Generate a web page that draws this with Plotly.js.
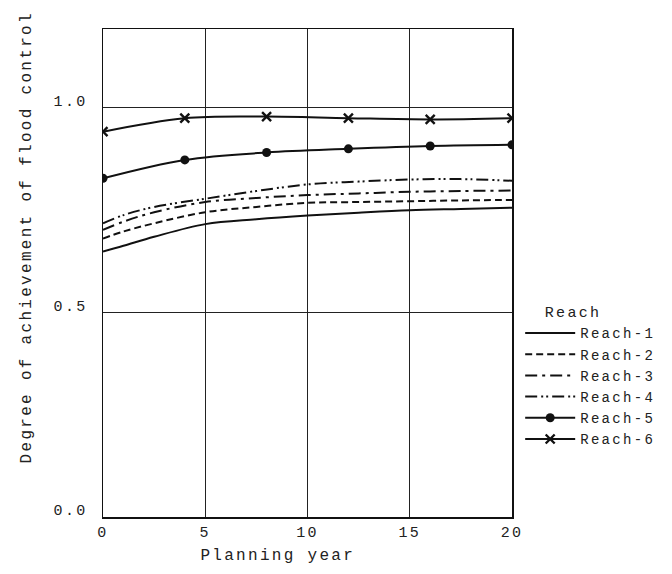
<!DOCTYPE html>
<html>
<head>
<meta charset="utf-8">
<script src="https://cdn.plot.ly/plotly-3.0.1.min.js"></script>
<style>
  html, body { margin: 0; padding: 0; background: #fff; }
  svg text { letter-spacing: 2.3px; white-space: pre; }
</style>
</head>
<body>
<div id="chart" style="width:672px;height:574px;"></div>
<script>
// Planning years for the smooth reaches (1-4)
const yearsSmooth = [0, 1, 2.5, 5, 7.5, 10, 12.5, 15, 17.5, 20];
const reach1 = [0.649, 0.663, 0.685, 0.716, 0.728, 0.737, 0.744, 0.750, 0.753, 0.756];
const reach2 = [0.681, 0.698, 0.718, 0.745, 0.758, 0.768, 0.770, 0.772, 0.774, 0.775];
const reach3 = [0.702, 0.722, 0.745, 0.770, 0.780, 0.787, 0.791, 0.795, 0.797, 0.798];
const reach4 = [0.718, 0.738, 0.758, 0.778, 0.797, 0.813, 0.820, 0.825, 0.826, 0.822];

// Planning years with markers (reaches 5-6)
const yearsMarked = [0, 4, 8, 12, 16, 20];
const reach5 = [0.828, 0.873, 0.891, 0.900, 0.907, 0.910];
const reach6 = [0.942, 0.975, 0.979, 0.975, 0.972, 0.975];

const xTicks = [0, 5, 10, 15, 20];
const xTickLabels = ['0', '5', '10', '15', '20'];
const yTicks = [0, 0.5, 1.0];
const yTickLabels = ['0.0', '0.5', '1.0'];

const names = ['Reach-1', 'Reach-2', 'Reach-3', 'Reach-4', 'Reach-5', 'Reach-6'];

const FONT = '"Courier New", Courier, "Nimbus Mono PS", FreeMono, "Liberation Mono", monospace';
// zero-width lead keeps the no-break-space padding from being trimmed
const ZW = '\u200B';
const NB = '\u00A0';

const traces = [
  {x: yearsSmooth, y: reach1, name: names[0], mode: 'lines',
   line: {color: '#111', width: 2, dash: 'solid', shape: 'spline', smoothing: 1}},
  {x: yearsSmooth, y: reach2, name: names[1], mode: 'lines',
   line: {color: '#111', width: 2, dash: '7px,4px', shape: 'spline', smoothing: 1}},
  {x: yearsSmooth, y: reach3, name: names[2], mode: 'lines',
   line: {color: '#111', width: 2, dash: '12px,5px,3px,5px', shape: 'spline', smoothing: 1}},
  {x: yearsSmooth, y: reach4, name: names[3], mode: 'lines',
   line: {color: '#111', width: 2, dash: '12px,4px,2px,3px,2px,4px', shape: 'spline', smoothing: 1}},
  {x: yearsMarked, y: reach5, name: names[4], mode: 'lines+markers',
   line: {color: '#111', width: 2, shape: 'spline', smoothing: 1},
   marker: {symbol: 'circle', size: 9, color: '#111'}},
  {x: yearsMarked, y: reach6, name: names[5], mode: 'lines+markers',
   line: {color: '#111', width: 2, shape: 'spline', smoothing: 1},
   marker: {symbol: 'x-thin', size: 9, color: '#111', line: {color: '#111', width: 2.4}}}
];

const layout = {
  width: 672, height: 574,
  paper_bgcolor: '#fff', plot_bgcolor: '#fff',
  font: {family: FONT, color: '#222', size: 15},
  margin: {l: 103, r: 160, t: 29, b: 57, pad: 0},
  showlegend: true,
  legend: {
    x: 1.02, xanchor: 'left', y: 0.449, yanchor: 'top',
    font: {family: FONT, size: 14, color: '#222'},
    title: {text: ZW + NB + NB + 'Reach', font: {family: FONT, size: 15, color: '#222'}},
    itemwidth: 50, tracegroupgap: 0, bgcolor: 'rgba(0,0,0,0)'
  },
  xaxis: {
    range: [0, 20], tickmode: 'array', tickvals: xTicks, ticktext: xTickLabels,
    showgrid: true, gridcolor: '#222', gridwidth: 1, zeroline: false,
    showline: true, linecolor: '#111', linewidth: 1.5, mirror: true,
    ticks: '', tickfont: {family: FONT, size: 15, color: '#222'},
    title: {text: 'Planning year' + NB.repeat(5) + ZW, font: {family: FONT, size: 16, color: '#222'}, standoff: 8}
  },
  yaxis: {
    range: [0, 1.193], tickmode: 'array', tickvals: yTicks, ticktext: yTickLabels,
    showgrid: true, gridcolor: '#222', gridwidth: 1, zeroline: false,
    showline: true, linecolor: '#111', linewidth: 1.5, mirror: true,
    ticks: '', ticklabelstandoff: 11, ticklabelshift: -7,
    tickfont: {family: FONT, size: 15, color: '#222'},
    title: {text: ZW + NB.repeat(6) + 'Degree of achievement of flood control', font: {family: FONT, size: 16, color: '#222'}, standoff: 18}
  }
};

Plotly.newPlot('chart', traces, layout, {staticPlot: true, displayModeBar: false});
</script>
</body>
</html>
